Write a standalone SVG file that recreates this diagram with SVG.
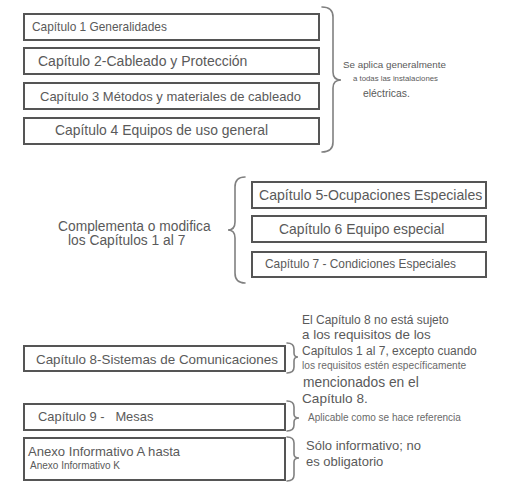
<svg xmlns="http://www.w3.org/2000/svg" width="516" height="494" viewBox="0 0 516 494">
<style>
.box{fill:#fff;stroke:#555;stroke-width:2}
.br{fill:none;stroke:#808080;stroke-width:1.6;stroke-linecap:round}
text{font-family:"Liberation Sans",Arial,sans-serif;fill:#5a5a5a}
.lt{fill:#6a6a6a}
</style>
<rect width="516" height="494" fill="#fff"/>
<g id="c1"><rect class="box" x="24" y="14" width="295" height="26"/><text x="32" y="31" font-size="11.9">Capítulo 1 Generalidades</text></g>
<g id="c2"><rect class="box" x="24" y="48" width="295" height="26"/><text x="38" y="66" font-size="14">Capítulo 2-Cableado y Protección</text></g>
<g id="c3"><rect class="box" x="24" y="83" width="295" height="26"/><text x="40" y="101" font-size="13">Capítulo 3 Métodos y materiales de cableado</text></g>
<g id="c4"><rect class="box" x="24" y="118" width="295" height="26"/><text x="55" y="135" font-size="13.9">Capítulo 4 Equipos de uso general</text></g>
<g id="n1" class="lt"><text x="343" y="68" font-size="9.8">Se aplica generalmente</text><text x="353" y="81" font-size="7.8">a todas las instalaciones</text><text x="363" y="97" font-size="10.4">eléctricas.</text></g>
<g id="c5"><rect class="box" x="252" y="182" width="234" height="26"/><text x="259" y="200" font-size="14.1">Capítulo 5-Ocupaciones Especiales</text></g>
<g id="c6"><rect class="box" x="252" y="216" width="234" height="26"/><text x="279" y="234" font-size="13.9">Capítulo 6 Equipo especial</text></g>
<g id="c7"><rect class="box" x="252" y="252" width="234" height="25"/><text x="265" y="268" font-size="11.9">Capítulo 7 - Condiciones Especiales</text></g>
<g id="n2"><text x="58" y="231" font-size="13.8">Complementa o modifica</text><text x="68" y="245" font-size="13.8">los Capítulos 1 al 7</text></g>
<g id="c8"><rect class="box" x="24" y="346" width="261" height="25"/><text x="36" y="364" font-size="13.4">Capítulo 8-Sistemas de Comunicaciones</text></g>
<g id="c9"><rect class="box" x="24" y="404" width="261" height="26"/><text x="38" y="421" font-size="12.9" xml:space="preserve">Capítulo 9 -   Mesas</text></g>
<g id="c10"><rect class="box" x="24" y="438" width="261" height="42"/><text x="28" y="456" font-size="13.1">Anexo Informativo A hasta</text><text x="30" y="469" font-size="10">Anexo Informativo K</text></g>
<g id="n8"><text x="302" y="324" font-size="12">El Capítulo 8 no está sujeto</text><text x="302" y="339" font-size="13.4">a los requisitos de los</text><text x="302" y="355" font-size="12">Capítulos 1 al 7, excepto cuando</text><text x="302" y="369" font-size="10.2" class="lt">los requisitos estén específicamente</text><text x="303" y="387" font-size="13.8">mencionados en el</text><text x="302" y="403" font-size="13.6">Capítulo 8.</text></g>
<g id="n9"><text x="308" y="421" font-size="10" class="lt">Aplicable como se hace referencia</text></g>
<g id="n10"><text x="306" y="450" font-size="13">Sólo informativo; no</text><text x="306" y="466" font-size="13">es obligatorio</text></g>
<g id="connectors">
<path class="br" d="M322,7 Q333,7 333,17 L333,72 Q333,80 341,80 Q333,80 333,88 L333,142 Q333,152 322,152"/>
<path class="br" d="M245,177 Q235,177 235,187 L235,222 Q235,230 228,230 Q235,230 235,238 L235,273 Q235,283 245,283"/>
<path class="br" d="M287,343 Q294,343 294,349 L294,353 Q294,357 298,357 Q294,357 294,361 L294,367 Q294,373 287,373"/>
<path class="br" d="M287,401 Q294,401 294,407 L294,414 Q294,418 299,418 Q294,418 294,422 L294,425 Q294,431 287,431"/>
<path class="br" d="M287,437 Q294,437 294,443 L294,454 Q294,458 299,458 Q294,458 294,462 L294,475 Q294,481 287,481"/>
</g>
</svg>
